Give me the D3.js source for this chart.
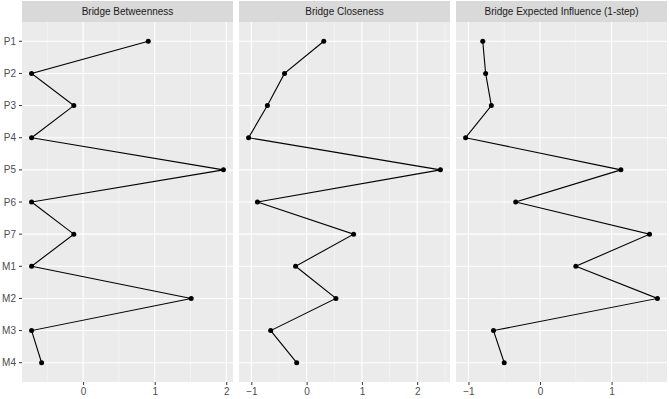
<!DOCTYPE html>
<html>
<head>
<meta charset="utf-8">
<script src="https://cdn.jsdelivr.net/npm/d3@7"></script>
<style>
  body { margin: 0; background: #fff; }
  svg { display: block; font-family: "Liberation Sans", Arial, sans-serif; }
</style>
</head>
<body>
<svg width="669" height="399"></svg>
<script>
var nodes = ["P1", "P2", "P3", "P4", "P5", "P6", "P7", "M1", "M2", "M3", "M4"];
var panelTitles = ["Bridge Betweenness", "Bridge Closeness", "Bridge Expected Influence (1-step)"];
var betweenness = [0.91, -0.72, -0.13, -0.72, 1.96, -0.72, -0.13, -0.72, 1.51, -0.72, -0.58];
var closeness = [0.31, -0.40, -0.71, -1.05, 2.42, -0.89, 0.85, -0.20, 0.53, -0.65, -0.18];
var influence = [-0.80, -0.76, -0.68, -1.04, 1.13, -0.34, 1.53, 0.50, 1.64, -0.65, -0.50];
var tickLabels = [-1, 0, 1, 2];

var series = [betweenness, closeness, influence];

var svg = d3.select("svg");
var panelLeft = [22, 239, 456];
var panelWidth = 211;
var stripTop = 1, stripBottom = 22;
var plotTop = 22, plotBottom = 382;

// discrete y scale like ggplot (0.6 expansion)
var yScale = d3.scaleLinear()
  .domain([0.4, nodes.length + 0.6])
  .range([plotTop, plotBottom]);

// y axis labels
var yAxis = svg.append("g");
nodes.forEach(function (n, i) {
  var y = yScale(i + 1);
  yAxis.append("text")
    .attr("x", 16).attr("y", y)
    .attr("dy", "0.35em")
    .attr("text-anchor", "end")
    .attr("font-size", 10)
    .attr("fill", "#4d4d4d")
    .text(n);
  yAxis.append("line")
    .attr("x1", 19).attr("x2", 22)
    .attr("y1", y).attr("y2", y)
    .attr("stroke", "#333").attr("stroke-width", 1);
});

series.forEach(function (vals, k) {
  var x0 = panelLeft[k];
  var ext = d3.extent(vals);
  var pad = (ext[1] - ext[0]) * 0.05;
  var xScale = d3.scaleLinear()
    .domain([ext[0] - pad, ext[1] + pad])
    .range([x0, x0 + panelWidth]);
  var dom = xScale.domain();
  var majors = tickLabels.filter(function (t) { return t >= dom[0] && t <= dom[1]; });
  var minors = d3.range(Math.floor(dom[0]) - 0.5, dom[1], 1)
    .filter(function (t) { return t >= dom[0] && t <= dom[1]; });

  var g = svg.append("g");

  // strip
  g.append("rect")
    .attr("x", x0).attr("y", stripTop)
    .attr("width", panelWidth).attr("height", stripBottom - stripTop)
    .attr("fill", "#d9d9d9");
  g.append("text")
    .attr("x", x0 + panelWidth / 2).attr("y", (stripTop + stripBottom) / 2)
    .attr("dy", "0.35em")
    .attr("text-anchor", "middle")
    .attr("font-size", 10)
    .attr("fill", "#1a1a1a")
    .text(panelTitles[k]);

  // panel background
  g.append("rect")
    .attr("x", x0).attr("y", plotTop)
    .attr("width", panelWidth).attr("height", plotBottom - plotTop)
    .attr("fill", "#ebebeb");

  // minor grid
  g.selectAll(".minor").data(minors).enter().append("line")
    .attr("x1", function (d) { return xScale(d); })
    .attr("x2", function (d) { return xScale(d); })
    .attr("y1", plotTop).attr("y2", plotBottom)
    .attr("stroke", "#f7f7f7").attr("stroke-width", 0.6);

  // major grid
  g.selectAll(".majorx").data(majors).enter().append("line")
    .attr("x1", function (d) { return xScale(d); })
    .attr("x2", function (d) { return xScale(d); })
    .attr("y1", plotTop).attr("y2", plotBottom)
    .attr("stroke", "#fff").attr("stroke-width", 1.1);
  g.selectAll(".majory").data(nodes).enter().append("line")
    .attr("x1", x0).attr("x2", x0 + panelWidth)
    .attr("y1", function (d, i) { return yScale(i + 1); })
    .attr("y2", function (d, i) { return yScale(i + 1); })
    .attr("stroke", "#fff").attr("stroke-width", 1.1);

  // x axis
  var axis = g.append("g")
    .attr("transform", "translate(0," + plotBottom + ")")
    .call(d3.axisBottom(xScale).tickValues(majors).tickSize(3).tickPadding(3)
      .tickFormat(function (d) { return d < 0 ? "\u2212" + Math.abs(d) : d; }));
  axis.select(".domain").remove();
  axis.selectAll(".tick line").attr("stroke", "#333");
  axis.selectAll(".tick text")
    .attr("font-size", 10)
    .attr("fill", "#4d4d4d")
    .attr("font-family", "Liberation Sans, Arial, sans-serif");

  // line + points
  var line = d3.line()
    .x(function (d) { return xScale(d); })
    .y(function (d, i) { return yScale(i + 1); });
  g.append("path")
    .datum(vals)
    .attr("d", line)
    .attr("fill", "none")
    .attr("stroke", "#000")
    .attr("stroke-width", 1.1);
  g.selectAll(".pt").data(vals).enter().append("circle")
    .attr("cx", function (d) { return xScale(d); })
    .attr("cy", function (d, i) { return yScale(i + 1); })
    .attr("r", 2.5)
    .attr("fill", "#000");
});
</script>
</body>
</html>
